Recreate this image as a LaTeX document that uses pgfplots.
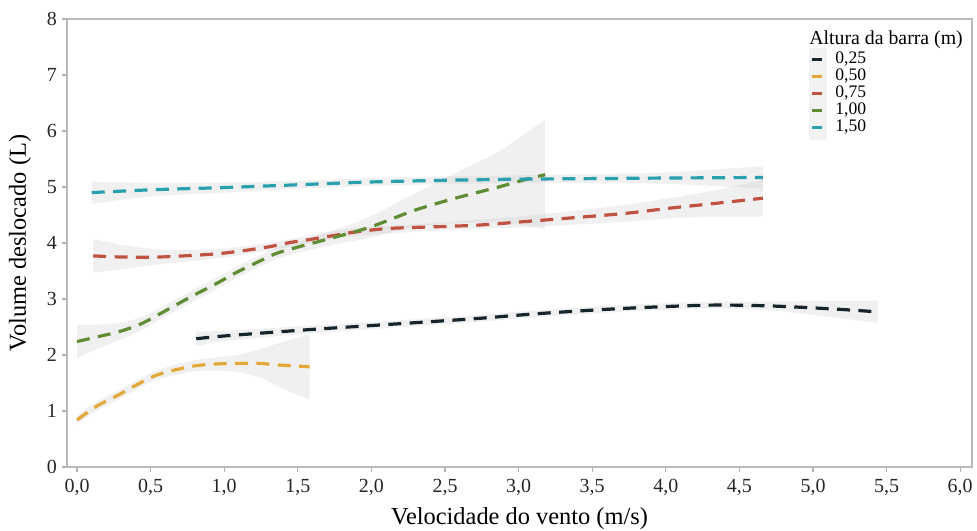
\documentclass[border=0pt]{standalone}
\usepackage{fontspec}
\setmainfont{Liberation Serif}
\usepackage{pgfplots}
\pgfplotsset{compat=1.18}
\usepgfplotslibrary{fillbetween}
\definecolor{cA}{RGB}{22,36,44}
\definecolor{cB}{RGB}{226,168,58}
\definecolor{cC}{RGB}{192,82,66}
\definecolor{cD}{RGB}{96,140,52}
\definecolor{cE}{RGB}{40,160,174}
\definecolor{bandc}{RGB}{200,200,200}
\begin{document}
\begin{tikzpicture}
\begin{axis}[
  name=ax,
  scale only axis,
  width=452.5pt, height=224pt,
  xmin=-0.068, xmax=6.08, ymin=0, ymax=8,
  axis line style={gray!55, line width=0.6pt},
  tick style={gray!60, line width=0.6pt},
  tick align=outside,
  major tick length=2.5pt,
  xtick pos=bottom, ytick pos=left,
  xtick={0,0.5,1,1.5,2,2.5,3,3.5,4,4.5,5,5.5,6},
  xticklabels={{0,0},{0,5},{1,0},{1,5},{2,0},{2,5},{3,0},{3,5},{4,0},{4,5},{5,0},{5,5},{6,0}},
  ytick={0,1,2,3,4,5,6,7,8},
  /pgf/number format/assume math mode=true,
  tick label style={font=\fontsize{10}{12}\selectfont, text=black!85},
  yticklabel style={xshift=1pt},
  xlabel={Velocidade do vento (m/s)},
  ylabel={Volume deslocado (L)},
  every axis x label/.style={at={(rel axis cs:0.5,0)}, anchor=base, yshift=-28.5pt, font=\fontsize{12.2}{14}\selectfont},
  every axis y label/.style={at={(rel axis cs:0,0.5)}, anchor=center, rotate=90, yshift=23.5pt, font=\fontsize{12.2}{14}\selectfont},
  legend style={at={(rel axis cs:0.8199,0.9297)}, anchor=north west, draw=none, fill=none, inner sep=0pt, row sep=0pt,
    font=\fontsize{8.8}{8.5}\selectfont,
    nodes={inner sep=0pt, text height=6.3pt, text depth=2.2pt},
    /tikz/every odd column/.append style={column sep=4pt}},
  legend cell align=left,
  legend image code/.code={\path[draw=none,fill=none] (0pt,-2pt) rectangle (9pt,2pt); \draw[#1, solid, line width=1.6pt] (1.5pt,0pt) -- (6.5pt,0pt);},
  clip=false,
]
% legend key background
\fill[gray!10] (rel axis cs:0.8199,0.9353) rectangle (rel axis cs:0.8398,0.7299);

% ---- confidence bands ----
% 0.25
\addplot[name path=aU, draw=none, smooth, forget plot] coordinates {(0.81,2.42) (1.0,2.43) (1.56,2.52) (2.14,2.61) (2.71,2.71) (3.14,2.80) (3.70,2.89) (4.29,2.95) (4.72,2.955) (5.15,2.97) (5.44,2.97)};
\addplot[name path=aL, draw=none, smooth, forget plot] coordinates {(0.81,2.16) (1.0,2.25) (1.56,2.38) (2.14,2.49) (2.71,2.59) (3.14,2.68) (3.70,2.77) (4.29,2.83) (4.72,2.795) (5.15,2.67) (5.44,2.57)};
\addplot[fill=bandc, fill opacity=0.28, draw=none, forget plot] fill between[of=aU and aL];
% 0.50
\addplot[name path=bU, draw=none, smooth, forget plot] coordinates {(0,0.92) (0.13,1.16) (0.27,1.35) (0.40,1.54) (0.53,1.71) (0.66,1.82) (0.81,1.91) (0.95,1.96) (1.09,2.0) (1.24,2.10) (1.38,2.22) (1.58,2.37)};
\addplot[name path=bL, draw=none, smooth, forget plot] coordinates {(0,0.76) (0.13,1.0) (0.27,1.19) (0.40,1.38) (0.53,1.55) (0.66,1.64) (0.81,1.71) (0.95,1.72) (1.09,1.70) (1.24,1.60) (1.38,1.42) (1.58,1.21)};
\addplot[fill=bandc, fill opacity=0.28, draw=none, forget plot] fill between[of=bU and bL];
% 0.75
\addplot[name path=cU, draw=none, smooth, forget plot] coordinates {(0.11,4.07) (0.3,3.97) (0.56,3.88) (0.86,3.88) (1.0,3.90) (1.3,4.0) (1.6,4.14) (1.9,4.27) (2.44,4.36) (3.03,4.48) (3.32,4.56) (3.73,4.68) (4.02,4.80) (4.31,4.93) (4.66,5.13)};
\addplot[name path=cL, draw=none, smooth, forget plot] coordinates {(0.11,3.47) (0.3,3.53) (0.56,3.62) (0.86,3.70) (1.0,3.74) (1.3,3.86) (1.6,4.0) (1.9,4.13) (2.44,4.22) (3.03,4.28) (3.32,4.32) (3.73,4.38) (4.02,4.44) (4.31,4.47) (4.66,4.47)};
\addplot[fill=bandc, fill opacity=0.28, draw=none, forget plot] fill between[of=cU and cL];
% 1.00
\addplot[name path=dU, draw=none, smooth, forget plot] coordinates {(0,2.54) (0.13,2.54) (0.29,2.57) (0.43,2.67) (0.56,2.83) (0.69,3.02) (0.81,3.19) (0.95,3.38) (1.08,3.57) (1.22,3.75) (1.35,3.91) (1.49,4.02) (1.62,4.12) (1.76,4.24) (1.9,4.37) (2.03,4.52) (2.3,4.89) (2.57,5.25) (2.85,5.61) (3.07,6.0) (3.18,6.2)};
\addplot[name path=dL, draw=none, smooth, forget plot] coordinates {(0,1.94) (0.13,2.10) (0.29,2.27) (0.43,2.43) (0.56,2.63) (0.69,2.82) (0.81,2.99) (0.95,3.18) (1.08,3.37) (1.22,3.55) (1.35,3.71) (1.49,3.82) (1.62,3.90) (1.76,3.98) (1.9,4.05) (2.03,4.12) (2.3,4.29) (2.57,4.35) (2.85,4.37) (3.07,4.30) (3.18,4.24)};
\addplot[fill=bandc, fill opacity=0.28, draw=none, forget plot] fill between[of=dU and dL];
% 1.50
\addplot[name path=eU, draw=none, smooth, forget plot] coordinates {(0.10,5.10) (0.50,5.07) (1.00,5.08) (1.50,5.11) (2.00,5.16) (2.50,5.19) (3.00,5.21) (3.50,5.23) (4.00,5.26) (4.66,5.37)};
\addplot[name path=eL, draw=none, smooth, forget plot] coordinates {(0.10,4.70) (0.50,4.83) (1.00,4.90) (1.50,4.97) (2.00,5.02) (2.50,5.05) (3.00,5.07) (3.50,5.07) (4.00,5.06) (4.66,4.97)};
\addplot[fill=bandc, fill opacity=0.28, draw=none, forget plot] fill between[of=eU and eL];

% ---- fitted lines ----
\addplot[cA, line width=1.6pt, dash pattern=on 6.5pt off 4.2pt, smooth] coordinates {(0.81,2.29) (1.0,2.34) (1.56,2.45) (2.14,2.55) (2.71,2.65) (3.14,2.74) (3.70,2.83) (4.29,2.89) (4.72,2.875) (5.15,2.82) (5.44,2.77)};
\addlegendentry{0,25}
\addplot[cB, line width=1.6pt, dash pattern=on 6.5pt off 4.2pt, smooth] coordinates {(0,0.84) (0.13,1.08) (0.27,1.27) (0.40,1.46) (0.53,1.63) (0.66,1.73) (0.81,1.81) (0.95,1.84) (1.09,1.85) (1.24,1.85) (1.38,1.82) (1.58,1.79)};
\addlegendentry{0,50}
\addplot[cC, line width=1.6pt, dash pattern=on 6.5pt off 4.2pt, smooth] coordinates {(0.11,3.77) (0.3,3.75) (0.56,3.75) (0.86,3.79) (1.0,3.82) (1.15,3.87) (1.3,3.93) (1.45,4.01) (1.6,4.07) (1.76,4.14) (1.9,4.20) (2.12,4.26) (2.44,4.29) (2.73,4.32) (3.03,4.38) (3.32,4.44) (3.73,4.53) (4.02,4.62) (4.31,4.70) (4.66,4.80)};
\addlegendentry{0,75}
\addplot[cD, line width=1.6pt, dash pattern=on 6.5pt off 4.2pt, smooth] coordinates {(0,2.24) (0.13,2.32) (0.29,2.42) (0.43,2.55) (0.56,2.73) (0.69,2.92) (0.81,3.09) (0.95,3.28) (1.08,3.47) (1.22,3.65) (1.35,3.81) (1.49,3.92) (1.62,4.01) (1.76,4.11) (1.9,4.21) (2.03,4.32) (2.3,4.59) (2.57,4.80) (2.85,4.99) (3.07,5.15) (3.18,5.22)};
\addlegendentry{1,00}
\addplot[cE, line width=1.6pt, dash pattern=on 6.5pt off 4.2pt, smooth] coordinates {(0.10,4.90) (0.50,4.95) (1.00,4.99) (1.50,5.04) (2.00,5.09) (2.50,5.12) (3.00,5.14) (3.50,5.15) (4.00,5.16) (4.66,5.17)};
\addlegendentry{1,50}

\node[anchor=base west, inner sep=0pt, font=\fontsize{9.9}{11}\selectfont] at (rel axis cs:0.8199,0.944) {Altura da barra (m)};
\end{axis}
\pgfresetboundingbox
\useasboundingbox ([shift={(-33.5pt,-31.5pt)}]ax.south west) rectangle ([shift={(2.5pt,9.5pt)}]ax.north east);
\end{tikzpicture}
\end{document}
